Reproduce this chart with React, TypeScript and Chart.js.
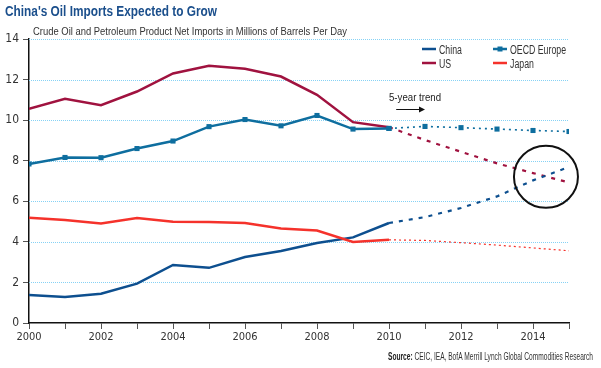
import React, { useEffect, useRef } from "react";
import { Chart, registerables } from "chart.js";

Chart.register(...registerables);

const histYears = [2000, 2001, 2002, 2003, 2004, 2005, 2006, 2007, 2008, 2009, 2010];
const trendYears = [2010, 2011, 2012, 2013, 2014, 2015];

const china = [1.38, 1.28, 1.44, 1.94, 2.86, 2.72, 3.25, 3.55, 3.94, 4.22, 4.93];
const chinaTrend = [4.93, 5.22, 5.67, 6.24, 7.03, 7.69];
const us = [10.56, 11.05, 10.74, 11.41, 12.3, 12.68, 12.53, 12.15, 11.25, 9.9, 9.65];
const usTrend = [9.65, 9.02, 8.44, 7.87, 7.39, 6.93];
const oecd = [7.84, 8.16, 8.15, 8.6, 8.97, 9.68, 10.03, 9.72, 10.23, 9.56, 9.59];
const oecdTrend = [9.59, 9.69, 9.63, 9.56, 9.49, 9.44];
const japan = [5.19, 5.08, 4.91, 5.17, 4.99, 4.98, 4.93, 4.66, 4.56, 3.99, 4.1];
const japanTrend = [4.1, 4.07, 3.96, 3.84, 3.7, 3.56];

const yTicks = [0, 2, 4, 6, 8, 10, 12, 14];

const titleText = "China's Oil Imports Expected to Grow";
const subtitleText = "Crude Oil and Petroleum Product Net Imports in Millions of Barrels Per Day";
const sourceLabel = "Source:";
const sourceText = " CEIC, IEA, BofA Merrill Lynch Global Commodities Research";
const trendLabel = "5-year trend";
const seriesNames = ["China", "US", "OECD Europe", "Japan"];

// highlight circle (data coordinates of centre)
const circleCenter = { x: 2014.36, y: 7.21 };
const arrowSpan = [2010.2, 2011.0];
const arrowLevel = 10.55;
const trendLabelPos = { x: 2010.0, y: 11.15 };

const C_CHINA = "#0d4f8f";
const C_US = "#a0123f";
const C_OECD = "#0e6e9f";
const C_JAPAN = "#f5322b";

const FONT = "'Liberation Sans', Arial, sans-serif";
const TICK_FONT = "'DejaVu Sans Condensed', 'Liberation Sans', sans-serif";

const pts = (xs: number[], ys: number[]) => xs.map((x, i) => ({ x, y: ys[i] }));

// draw text horizontally condensed by factor sx
function textC(ctx: any, text: string, x: number, y: number, sx: number, align = "left") {
  const w = ctx.measureText(text).width * sx;
  let x0 = x;
  if (align === "right") x0 = x - w;
  if (align === "center") x0 = x - w / 2;
  ctx.save();
  ctx.translate(x0, y);
  ctx.scale(sx, 1);
  ctx.textAlign = "left";
  ctx.fillText(text, 0, 0);
  ctx.restore();
  return w;
}

const overlay = {
  id: "overlay",
  beforeDatasetsDraw(chart: any) {
    const { ctx, chartArea, scales } = chart;
    const ys = scales.y;
    ctx.save();
    ctx.strokeStyle = "#86d2f5";
    ctx.lineWidth = 1;
    ctx.setLineDash([1, 1]);
    yTicks.forEach((v) => {
      if (v === 0) return;
      const py = Math.round(ys.getPixelForValue(v)) + 0.5;
      ctx.beginPath();
      ctx.moveTo(chartArea.left, py);
      ctx.lineTo(chartArea.right, py);
      ctx.stroke();
    });
    ctx.restore();
  },
  afterDraw(chart: any) {
    const { ctx, scales } = chart;
    const xs = scales.x;
    const ys = scales.y;
    ctx.save();
    ctx.textBaseline = "alphabetic";
    // title
    ctx.fillStyle = "#1b4f8c";
    ctx.font = `bold 14.5px ${FONT}`;
    const tw = ctx.measureText(titleText).width;
    textC(ctx, titleText, 5, 15.5, 212 / tw);
    // subtitle
    ctx.fillStyle = "#333";
    ctx.font = `11px ${FONT}`;
    const prefW = ctx.measureText("Crude Oil and Petroleum Product Net Imports i").width;
    textC(ctx, subtitleText, 33, 35, 195 / prefW);
    // legend
    const legend = [
      { name: seriesNames[0], color: C_CHINA, x: 422, y: 49, marker: false },
      { name: seriesNames[1], color: C_US, x: 422, y: 63, marker: false },
      { name: seriesNames[2], color: C_OECD, x: 493, y: 49, marker: true },
      { name: seriesNames[3], color: C_JAPAN, x: 493, y: 63, marker: false },
    ];
    ctx.font = `12px ${FONT}`;
    const legSx = 56 / ctx.measureText("OECD Europe").width;
    legend.forEach((l) => {
      ctx.strokeStyle = l.color;
      ctx.lineWidth = 2.5;
      ctx.beginPath();
      ctx.moveTo(l.x, l.y);
      ctx.lineTo(l.x + 14, l.y);
      ctx.stroke();
      if (l.marker) {
        ctx.fillStyle = l.color;
        ctx.fillRect(l.x + 4.5, l.y - 2.5, 5, 5);
      }
      ctx.fillStyle = "#333";
      textC(ctx, l.name, l.x + 17, l.y + 4.5, legSx);
    });
    // trend label and arrow
    ctx.fillStyle = "#222";
    ctx.font = `11.5px ${FONT}`;
    const trSx = 52 / ctx.measureText(trendLabel).width;
    textC(ctx, trendLabel, xs.getPixelForValue(trendLabelPos.x), ys.getPixelForValue(trendLabelPos.y) + 4, trSx);
    const ax1 = xs.getPixelForValue(arrowSpan[0]);
    const ax2 = xs.getPixelForValue(arrowSpan[1]);
    const ay = Math.round(ys.getPixelForValue(arrowLevel)) + 0.5;
    ctx.strokeStyle = "#111";
    ctx.lineWidth = 1;
    ctx.beginPath();
    ctx.moveTo(ax1, ay);
    ctx.lineTo(ax2 - 4, ay);
    ctx.stroke();
    ctx.fillStyle = "#111";
    ctx.beginPath();
    ctx.moveTo(ax2, ay);
    ctx.lineTo(ax2 - 6, ay - 3);
    ctx.lineTo(ax2 - 6, ay + 3);
    ctx.closePath();
    ctx.fill();
    // circle
    ctx.strokeStyle = "#111";
    ctx.lineWidth = 2;
    ctx.beginPath();
    ctx.ellipse(xs.getPixelForValue(circleCenter.x), ys.getPixelForValue(circleCenter.y), 32, 31, 0, 0, Math.PI * 2);
    ctx.stroke();
    // source
    ctx.font = `11.5px ${FONT}`;
    const restW0 = ctx.measureText(sourceText).width;
    ctx.font = `bold 11.5px ${FONT}`;
    const labW0 = ctx.measureText(sourceLabel).width;
    const srcSx = 205 / (restW0 + labW0);
    const right = 593;
    const start = right - (restW0 + labW0) * srcSx;
    ctx.fillStyle = "#222";
    textC(ctx, sourceLabel, start, 360, srcSx);
    ctx.font = `11.5px ${FONT}`;
    ctx.fillStyle = "#333";
    textC(ctx, sourceText, start + labW0 * srcSx, 360, srcSx);
    ctx.restore();
  },
};

export default function App() {
  const ref = useRef<HTMLCanvasElement | null>(null);
  useEffect(() => {
    document.body.style.margin = "0";
    if (!ref.current) return;
    const solid = (label: string, color: string, data: number[], marker = false) => ({
      label,
      data: pts(histYears, data),
      borderColor: color,
      backgroundColor: color,
      borderWidth: 2.5,
      pointRadius: marker ? 3.6 : 0,
      pointStyle: "rect",
      pointBorderWidth: 0,
      tension: 0,
    });
    const trend = (label: string, color: string, data: number[], dash: number[], width: number, marker = false) => ({
      label,
      data: pts(trendYears, data),
      borderColor: color,
      backgroundColor: color,
      borderWidth: width,
      borderDash: dash,
      pointRadius: marker ? 3.6 : 0,
      pointStyle: "rect",
      pointBorderWidth: 0,
      tension: 0,
    });
    const chart = new Chart(ref.current, {
      type: "line",
      data: {
        datasets: [
          solid("Japan", C_JAPAN, japan),
          trend("Japan trend", C_JAPAN, japanTrend, [2, 3], 1.2),
          solid("China", C_CHINA, china),
          trend("China trend", C_CHINA, chinaTrend, [4, 6], 2.2),
          solid("OECD Europe", C_OECD, oecd, true),
          trend("OECD Europe trend", C_OECD, oecdTrend, [2, 4], 1.6, true),
          solid("US", C_US, us),
          trend("US trend", C_US, usTrend, [4, 6], 2.2),
        ] as any,
      },
      options: {
        responsive: false,
        animation: false,
        layout: { padding: { top: 39, right: 32, left: 0, bottom: 0 } },
        plugins: {
          legend: { display: false },
          title: { display: false },
          tooltip: { enabled: false },
        },
        scales: {
          x: {
            type: "linear",
            min: 2000,
            max: 2015,
            afterFit: (s: any) => {
              s.height = 45;
            },
            ticks: {
              stepSize: 1,
              autoSkip: false,
              maxRotation: 0,
              padding: 2,
              color: "#333",
              font: { family: TICK_FONT, size: 11 },
              callback: (v: any) => (Number(v) % 2 === 0 ? String(v) : ""),
            },
            grid: { drawOnChartArea: false, drawTicks: true, tickLength: 6, color: "#555", lineWidth: 1 },
            border: { display: true, color: "#111", width: 1.5 },
          },
          y: {
            min: 0,
            max: 14,
            afterFit: (s: any) => {
              s.width = 29;
            },
            afterBuildTicks: (s: any) => {
              s.ticks = yTicks.map((v) => ({ value: v }));
            },
            ticks: {
              padding: 4,
              color: "#333",
              font: { family: TICK_FONT, size: 12 },
            },
            grid: { drawOnChartArea: false, drawTicks: true, tickLength: 6, color: "#555", lineWidth: 1 },
            border: { display: true, color: "#111", width: 1.5 },
          },
        },
      } as any,
      plugins: [overlay],
    });
    return () => chart.destroy();
  }, []);
  return (
    <div style={{ position: "absolute", left: 0, top: 0, width: 601, height: 368, background: "#fff" }}>
      <canvas ref={ref} width={601} height={368} />
    </div>
  );
}
